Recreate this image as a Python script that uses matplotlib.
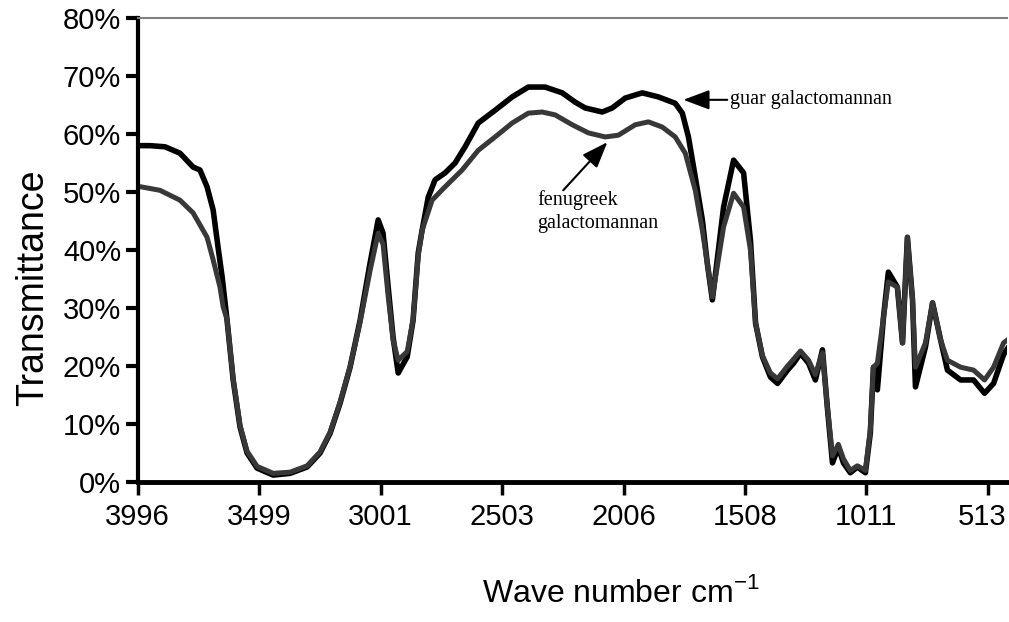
import matplotlib
matplotlib.use("Agg")
import matplotlib.pyplot as plt
from matplotlib.transforms import ScaledTranslation, blended_transform_factory

# Wellenzahl (cm-1) und Transmission (%)
guar_wn = [3996, 3946, 3884, 3823, 3769, 3741, 3712, 3687, 3667, 3650, 3630, 3605,
           3577, 3548, 3507, 3441, 3372, 3302, 3249, 3208, 3167, 3126, 3085, 3044,
           3011, 2991, 2970, 2950, 2929, 2892, 2868, 2847, 2831, 2806, 2778, 2737,
           2696, 2655, 2601, 2532, 2462, 2396, 2327, 2257, 2204, 2163, 2093, 2052,
           1999, 1929, 1863, 1794, 1765, 1740, 1712, 1683, 1663, 1642, 1596, 1555,
           1514, 1486, 1465, 1437, 1404, 1375, 1334, 1309, 1281, 1248, 1220, 1191,
           1171, 1150, 1126, 1105, 1077, 1048, 1015, 995, 982, 966, 941, 921, 884,
           863, 843, 822, 810, 769, 740, 707, 679, 625, 572, 527, 490, 449, 433]
guar_t = [58.0, 58.0, 57.8, 56.7, 54.3, 53.8, 50.9, 46.9, 40.5, 35.3, 27.9, 17.6,
          9.5, 5.0, 2.4, 1.2, 1.5, 2.6, 5.0, 8.4, 13.6, 19.8, 27.9, 37.8,
          45.2, 42.9, 33.6, 25.0, 18.8, 21.6, 27.9, 39.5, 43.4, 49.1, 52.1, 53.3,
          55.0, 57.8, 61.9, 64.1, 66.4, 68.1, 68.1, 67.1, 65.5, 64.5, 63.8, 64.5,
          66.2, 67.1, 66.4, 65.3, 63.6, 59.5, 52.6, 45.2, 37.8, 31.4, 47.4, 55.5,
          53.3, 41.7, 27.4, 21.6, 18.1, 17.0, 19.3, 20.5, 22.2, 20.5, 17.6, 22.8,
          12.9, 3.3, 6.0, 3.3, 1.6, 2.6, 1.6, 8.4, 19.8, 15.9, 28.4, 36.2, 33.6,
          24.0, 42.2, 31.4, 16.4, 23.3, 30.9, 24.5, 19.3, 17.6, 17.6, 15.3, 17.0, 22.0, 23.0]

fenu_wn = [3996, 3905, 3823, 3769, 3712, 3687, 3659, 3646, 3630, 3605, 3577, 3548,
           3507, 3441, 3372, 3302, 3249, 3208, 3167, 3126, 3085, 3044, 3011, 2991,
           2970, 2950, 2929, 2892, 2868, 2847, 2831, 2790, 2737, 2667, 2601, 2532,
           2462, 2396, 2339, 2286, 2216, 2150, 2081, 2027, 1958, 1904, 1847, 1794,
           1753, 1712, 1683, 1642, 1596, 1555, 1514, 1486, 1465, 1437, 1404, 1375,
           1334, 1309, 1281, 1248, 1220, 1191, 1171, 1150, 1126, 1105, 1077, 1048,
           1015, 995, 982, 966, 941, 921, 884, 863, 843, 822, 810, 769, 740, 707,
           679, 625, 572, 527, 490, 449, 433]
fenu_t = [51.0, 50.3, 48.6, 46.4, 42.2, 38.3, 33.6, 30.2, 28.0, 17.8, 9.8, 5.3,
          2.7, 1.5, 1.7, 2.8, 5.2, 8.6, 13.8, 19.9, 27.6, 36.5, 42.9, 41.0,
          32.0, 24.5, 21.0, 22.5, 28.0, 39.0, 43.4, 48.6, 50.9, 53.8, 57.2, 59.5,
          61.9, 63.6, 63.8, 63.3, 61.6, 60.2, 59.5, 59.8, 61.6, 62.1, 61.2, 59.5,
          56.7, 50.3, 43.4, 31.9, 44.0, 49.8, 47.4, 40.0, 27.4, 21.8, 18.8, 17.8,
          20.0, 21.2, 22.6, 21.0, 18.5, 22.3, 13.0, 4.5, 6.5, 4.0, 2.0, 2.8,
          2.0, 9.0, 19.8, 20.5, 28.4, 34.5, 33.6, 24.0, 42.2, 31.4, 19.8, 24.0,
          30.9, 24.5, 21.0, 19.8, 19.3, 17.6, 19.8, 24.0, 24.5]

tick_wn = [3996, 3499, 3001, 2503, 2006, 1508, 1011, 513]
tick_pct = [0, 10, 20, 30, 40, 50, 60, 70, 80]

plt.rcParams["font.family"] = "Liberation Sans"
plt.rcParams["mathtext.fontset"] = "custom"
plt.rcParams["mathtext.rm"] = "Liberation Sans"

fig = plt.figure(figsize=(10.09, 6.22), dpi=100)
ax = fig.add_axes([0.1365, 0.225, 0.862, 0.746])

ax.plot(guar_wn, guar_t, color="black", lw=4.0, solid_joinstyle="round")
ax.plot(fenu_wn, fenu_t, color="#383838", lw=3.6, solid_joinstyle="round")

ax.set_xlim(3996, 433)
ax.set_ylim(0, 80)
ax.set_xticks(tick_wn)
ax.set_xticklabels([])
ax.set_yticks(tick_pct)
ax.set_yticklabels([f"{v}%" for v in tick_pct], fontsize=21)

# x-Beschriftung von Hand, damit "513" am rechten Rand nicht abgeschnitten wird
xlab_tf = blended_transform_factory(ax.transData, ax.transAxes)
for i, wn in enumerate(tick_wn):
    tf = xlab_tf
    if i == len(tick_wn) - 1:
        tf = xlab_tf + ScaledTranslation(-4 / 72, 0, fig.dpi_scale_trans)
    ax.text(wn, -0.076, str(wn), transform=tf, fontsize=21,
            ha="center", va="center", clip_on=False)

ax.spines["right"].set_visible(False)
ax.spines["top"].set_color("#808080")
ax.spines["top"].set_linewidth(1.5)
ax.spines["left"].set_linewidth(3)
ax.spines["bottom"].set_linewidth(3.5)
ax.tick_params(axis="y", direction="out", length=9, width=3, pad=3)
ax.tick_params(axis="x", direction="out", length=9, width=2.5, pad=7)

ax.set_ylabel("Transmittance", fontsize=27)
ax.yaxis.set_label_coords(-0.1, 0.418)
ax.set_xlabel("Wave number cm$^{-1}$", fontsize=23)
ax.xaxis.set_label_coords(0.555, -0.205)

# Beschriftungen mit Pfeilen
arrow = dict(arrowstyle="-|>,head_length=0.8,head_width=0.3",
             color="black", lw=1.5, mutation_scale=20, shrinkA=0, shrinkB=0)
ax.annotate("", xy=(1761, 65.9), xytext=(1581, 65.9), arrowprops=arrow)
ax.text(1568, 65.9, "guar galactomannan", fontfamily="Liberation Serif",
        fontsize=14.5, ha="left", va="center")

ax.annotate("", xy=(2072, 58.6), xytext=(2253, 50.3), arrowprops=arrow)
ax.text(2359, 50.3, "fenugreek\ngalactomannan", fontfamily="Liberation Serif",
        fontsize=14.5, ha="left", va="top", linespacing=1.3)

fig.savefig("out.png", dpi=100)
